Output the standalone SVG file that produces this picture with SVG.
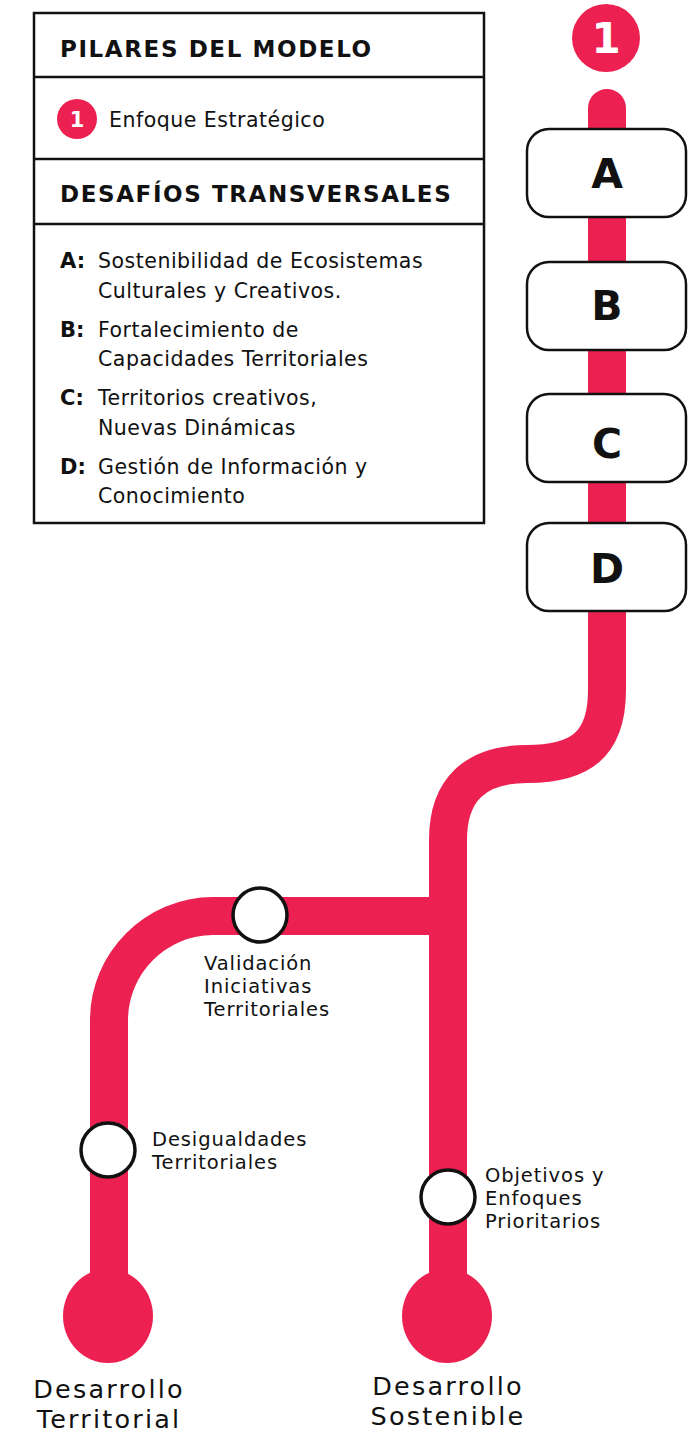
<svg xmlns="http://www.w3.org/2000/svg" width="696" height="1434" viewBox="0 0 696 1434">
<style>
.line{fill:none;stroke:#EC2151;stroke-width:38}
.pink{fill:#EC2151}
.box{fill:#fff;stroke:#111;stroke-width:2.5}
.stop{fill:#fff;stroke:#111;stroke-width:3.5}
.h{font-family:"DejaVu Sans",sans-serif;font-weight:bold;font-size:23px;letter-spacing:1.6px;fill:#111}
.t{font-family:"DejaVu Sans",sans-serif;font-size:20.5px;letter-spacing:0.5px;fill:#111}
.k{font-family:"DejaVu Sans",sans-serif;font-weight:bold;font-size:21px;fill:#111}
.lbl{font-family:"DejaVu Sans",sans-serif;font-size:19.5px;letter-spacing:0.9px;fill:#111}
.big{font-family:"DejaVu Sans",sans-serif;font-size:25.5px;letter-spacing:2.2px;fill:#111;text-anchor:middle}
.L{font-family:"DejaVu Sans",sans-serif;font-weight:bold;font-size:41px;fill:#111;text-anchor:middle}
</style>
<g id="legend">
<rect x="34" y="13" width="450" height="510" fill="#fff" stroke="#111" stroke-width="2.5"/>
<line x1="34" y1="77" x2="484" y2="77" stroke="#111" stroke-width="2.5"/>
<line x1="34" y1="159" x2="484" y2="159" stroke="#111" stroke-width="2.5"/>
<line x1="34" y1="224" x2="484" y2="224" stroke="#111" stroke-width="2.5"/>
<text class="h" x="60" y="57">PILARES DEL MODELO</text>
<circle class="pink" cx="77" cy="119" r="20"/>
<text x="77" y="127" text-anchor="middle" style="font-family:'DejaVu Sans',sans-serif;font-weight:bold;font-size:21px;fill:#fff">1</text>
<text class="t" x="109" y="127">Enfoque Estratégico</text>
<text class="h" x="60" y="202">DESAFÍOS TRANSVERSALES</text>
<text class="k" x="60" y="268">A:</text>
<text class="t" x="98" y="268">Sostenibilidad de Ecosistemas</text>
<text class="t" x="98" y="298">Culturales y Creativos.</text>
<text class="k" x="60" y="337">B:</text>
<text class="t" x="98" y="337">Fortalecimiento de</text>
<text class="t" x="98" y="366">Capacidades Territoriales</text>
<text class="k" x="60" y="405">C:</text>
<text class="t" x="98" y="405">Territorios creativos,</text>
<text class="t" x="98" y="435">Nuevas Dinámicas</text>
<text class="k" x="60" y="474">D:</text>
<text class="t" x="98" y="474">Gestión de Información y</text>
<text class="t" x="98" y="503">Conocimiento</text>
</g>
<g id="connectors">
<path class="line" d="M607,108 V690 C607,745 580,764 527,764 C475,764 448,790 448,840 V1290" stroke-linecap="round"/>
<path class="line" d="M448,916 H213 C156,916 109,963 109,1020 V1290"/>
<ellipse class="pink" cx="108" cy="1316" rx="45" ry="47"/>
<ellipse class="pink" cx="447" cy="1316" rx="45" ry="47"/>
</g>
<g id="pillar-1">
<circle class="pink" cx="606" cy="38" r="34"/>
<text x="606" y="53" text-anchor="middle" style="font-family:'DejaVu Sans',sans-serif;font-weight:bold;font-size:42px;fill:#fff">1</text>
</g>
<g id="node-A"><rect class="box" x="527" y="129" width="159" height="88" rx="22"/><text class="L" x="607" y="188">A</text></g>
<g id="node-B"><rect class="box" x="527" y="262" width="159" height="88" rx="22"/><text class="L" x="607" y="320">B</text></g>
<g id="node-C"><rect class="box" x="527" y="394" width="159" height="88" rx="22"/><text class="L" x="607" y="458">C</text></g>
<g id="node-D"><rect class="box" x="527" y="523" width="159" height="88" rx="22"/><text class="L" x="607" y="583">D</text></g>
<g id="stop-validacion">
<circle class="stop" cx="260" cy="915" r="27"/>
<text class="lbl" x="204" y="970">Validación</text>
<text class="lbl" x="204" y="993">Iniciativas</text>
<text class="lbl" x="204" y="1016">Territoriales</text>
</g>
<g id="stop-desigualdades">
<circle class="stop" cx="108" cy="1150" r="27"/>
<text class="lbl" x="152" y="1146">Desigualdades</text>
<text class="lbl" x="152" y="1169">Territoriales</text>
</g>
<g id="stop-objetivos">
<circle class="stop" cx="448" cy="1197" r="27"/>
<text class="lbl" x="485" y="1182">Objetivos y</text>
<text class="lbl" x="485" y="1205">Enfoques</text>
<text class="lbl" x="485" y="1228">Prioritarios</text>
</g>
<g id="end-territorial">
<text class="big" x="109" y="1398">Desarrollo</text>
<text class="big" x="109" y="1428">Territorial</text>
</g>
<g id="end-sostenible">
<text class="big" x="448" y="1395">Desarrollo</text>
<text class="big" x="448" y="1425">Sostenible</text>
</g>
</svg>
